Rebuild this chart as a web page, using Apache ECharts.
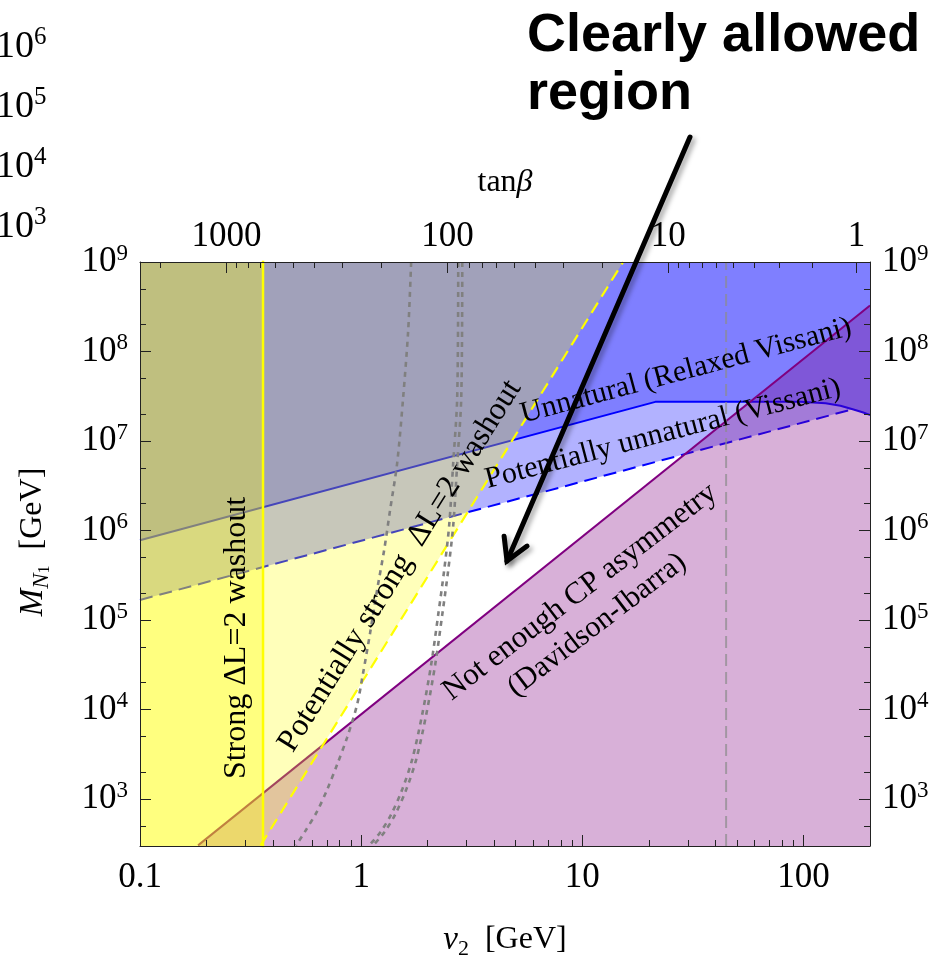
<!DOCTYPE html>
<html>
<head>
<meta charset="utf-8">
<title>Leptogenesis constraints</title>
<script src="https://cdn.jsdelivr.net/npm/echarts@6/dist/echarts.min.js"></script>
<style>
html,body{margin:0;padding:0;background:#fff;}
#chart{width:931px;height:956px;}
</style>
</head>
<body>
<div id="chart"></div>
<script>
// ---------------- axis ranges & ticks ----------------
const xRange = [0.1, 200];          // v2 [GeV]
const yRange = [300, 1e9];          // M_N1 [GeV]
const xMajorTicks = [0.1, 1, 10, 100];
const xMajorLabels = ['0.1', '1', '10', '100'];
const xMinorTicks = [0.2,0.3,0.4,0.5,0.6,0.7,0.8,0.9,2,3,4,5,6,7,8,9,20,30,40,50,60,70,80,90];
const yMajorTicks = [1e3,1e4,1e5,1e6,1e7,1e8,1e9];
const yMajorExps = ['3','4','5','6','7','8','9'];
const yMinorTicks = [500,2e3,5e3,2e4,5e4,2e5,5e5,2e6,5e6,2e7,5e7,2e8,5e8];
const tanbMajorTicks = [1000, 100, 10, 1];
const tanbMajorLabels = ['1000', '100', '10', '1'];
const tanbMinorTicks = [2000,900,800,700,600,500,400,300,200,90,80,70,60,50,40,30,20,9,8,7,6,5,4,3,2];
const vEW = 246; // GeV, v2 = v / sqrt(1 + tan^2(beta))
const leftOverflowExps = ['6','5','4','3'];

// ---------------- boundaries ----------------
const strongWashoutV2 = 0.36;                 // solid yellow line
const potStrongV2 = [0.351, 15.3];            // dashed yellow line
const potStrongM  = [305, 1.0e9];
const relaxedV2 = [0.1, 21.4, 97, 126, 147, 167, 185, 201];   // solid blue line
const relaxedM  = [7.8e5, 2.74e7, 2.74e7, 2.645e7, 2.48e7, 2.27e7, 2.10e7, 1.95e7];
const vissaniV2 = [0.1, 167];                 // dashed blue line
const vissaniM  = [1.68e5, 2.27e7];
const diV2 = [0.183, 200];                    // Davidson-Ibarra (purple)
const diM  = [305, 3.27e8];
const tanbGuideV2 = 44.7;                     // grey dashed vertical
const dot1V2 = [1.683,1.632,1.549,1.455,1.352,1.271,1.181,1.098,1.021,0.959,0.864,0.779,0.702,0.632,0.558,0.508];
const dot1M  = [1e9,1.72e8,3.08e7,5.68e6,1.70e6,6.08e5,2.18e5,7.21e4,2.58e4,1.14e4,4.88e3,2.44e3,1.28e3,730,437,305];
const dot2V2 = [2.748,2.719,2.608,2.502,2.375,2.231,2.073,1.888,1.701,1.533,1.367,1.219,1.087];
const dot2M  = [1e9,3.08e7,5.68e6,1.16e6,3.64e5,1.15e5,3.18e4,8.8e3,2.77e3,1.28e3,675,425,305];
const dot3V2 = [2.866,2.836,2.720,2.610,2.477,2.327,2.162,1.969,1.774,1.599,1.426,1.271,1.134];
const dot3M  = [1e9,3.08e7,5.68e6,1.16e6,3.64e5,1.15e5,3.18e4,8.8e3,2.77e3,1.28e3,675,425,305];

// ---------------- helpers ----------------
const LOG = Math.log10;
const serif = '"Liberation Serif","Times New Roman",Times,serif';
const sans = '"Liberation Sans",Arial,Helvetica,sans-serif';
const X0 = LOG(xRange[0]), X1 = LOG(xRange[1]), Y0 = LOG(yRange[0]), Y1 = LOG(yRange[1]);
const P = (v, m) => [LOG(v), LOG(m)];
const pts = (vs, ms) => vs.map((v, i) => P(v, ms[i]));
const tanToX = t => LOG(vEW / Math.sqrt(1 + t * t));
function nearest(arr, v) { let b = 0; arr.forEach((a, i) => { if (Math.abs(a - v) < Math.abs(arr[b] - v)) b = i; }); return b; }

const xMajVals = xMajorTicks.map(LOG);
const yMajVals = yMajorTicks.map(LOG);
const tMajVals = tanbMajorTicks.map(tanToX);

const relaxedPts = pts(relaxedV2, relaxedM);
const vissaniPts = pts(vissaniV2, vissaniM);
const diPts = pts(diV2, diM);
const potPts = pts(potStrongV2, potStrongM);
const xs = LOG(strongWashoutV2);

const bluePoly = relaxedPts.concat([[X1 + 0.1, Y1 + 0.1], [X0 - 0.1, Y1 + 0.1]]);
const bandPoly = vissaniPts.concat(
  relaxedPts.filter((p, i) => relaxedV2[i] < vissaniV2[vissaniV2.length - 1]).reverse());
const purplePoly = [diPts[0], diPts[1], [X1 + 0.1, diPts[1][1] + 0.2], [X1 + 0.1, Y0 - 0.2], [diPts[0][0], Y0 - 0.2]];
const strongPoly = [[X0 - 0.1, Y0 - 0.2], [xs, Y0 - 0.2], [xs, Y1 + 0.2], [X0 - 0.1, Y1 + 0.2]];
const potPoly = [[xs, Y0 - 0.2], [xs, potPts[0][1]]].concat(potPts).concat([[xs, Y1 + 0.2]]);

function polygonSeries(poly, fill, z) {
  return {
    type: 'custom', xAxisIndex: 0, yAxisIndex: 0, clip: true, silent: true, z: z, animation: false,
    data: [poly[0]],
    renderItem: function (params, api) {
      return { type: 'polygon', shape: { points: poly.map(p => api.coord(p)) }, style: { fill: fill } };
    }
  };
}
function lineSeries(data, lineStyle, z, smooth) {
  return {
    type: 'line', xAxisIndex: 0, yAxisIndex: 0, data: data, symbol: 'none', showSymbol: false,
    silent: true, z: z, animation: false, clip: true, smooth: smooth || false, lineStyle: lineStyle
  };
}

const supRich = {
  b: { fontFamily: serif, fontSize: 35, color: '#000', lineHeight: 40 },
  s: { fontFamily: serif, fontSize: 23, color: '#000', verticalAlign: 'top', lineHeight: 24 }
};
const yLabelFmt = v => '{b|10}{s|' + yMajorExps[nearest(yMajVals, v)] + '}';

function majorAxisBase(extra) {
  return Object.assign({
    type: 'value', z: 50, splitLine: { show: false },
    axisLine: { show: true, onZero: false, lineStyle: { color: '#222', width: 1 } }
  }, extra);
}
function minorAxis(pos, vals, isX) {
  const o = {
    type: 'value', z: 50, position: pos, splitLine: { show: false },
    axisLine: { show: false, onZero: false }, axisLabel: { show: false },
    axisTick: { show: true, inside: true, length: 6, customValues: vals, lineStyle: { color: '#222', width: 1 } }
  };
  if (isX) { o.min = X0; o.max = X1; } else { o.min = Y0; o.max = Y1; }
  return o;
}

const chart = echarts.init(document.getElementById('chart'), null, { renderer: 'canvas' });

const option = {
  animation: false,
  backgroundColor: '#ffffff',
  grid: { left: 140, top: 262, right: 61, bottom: 110, containLabel: false, outerBoundsMode: 'none' },
  xAxis: [
    majorAxisBase({
      position: 'bottom', min: X0, max: X1,
      axisTick: { show: true, inside: true, length: 11, customValues: xMajVals, lineStyle: { color: '#222' } },
      axisLabel: { show: true, customValues: xMajVals, margin: 14, color: '#000', fontFamily: serif, fontSize: 35,
        formatter: v => xMajorLabels[nearest(xMajVals, v)] }
    }),
    majorAxisBase({
      position: 'top', min: X0, max: X1,
      axisTick: { show: true, inside: true, length: 11, customValues: tMajVals, lineStyle: { color: '#222' } },
      axisLabel: { show: true, customValues: tMajVals, margin: 8, color: '#000', fontFamily: serif, fontSize: 35,
        formatter: v => tanbMajorLabels[nearest(tMajVals, v)] }
    }),
    minorAxis('bottom', xMinorTicks.map(LOG), true),
    minorAxis('top', tanbMinorTicks.map(tanToX), true)
  ],
  yAxis: [
    majorAxisBase({
      position: 'left', min: Y0, max: Y1,
      axisTick: { show: true, inside: true, length: 11, customValues: yMajVals, lineStyle: { color: '#222' } },
      axisLabel: { show: true, customValues: yMajVals, margin: 12, formatter: yLabelFmt, rich: supRich }
    }),
    majorAxisBase({
      position: 'right', min: Y0, max: Y1,
      axisTick: { show: true, inside: true, length: 11, customValues: yMajVals, lineStyle: { color: '#222' } },
      axisLabel: { show: true, customValues: yMajVals, margin: 12, formatter: yLabelFmt, rich: supRich }
    }),
    minorAxis('left', yMinorTicks.map(LOG), false),
    minorAxis('right', yMinorTicks.map(LOG), false)
  ],
  series: [
    polygonSeries(bluePoly, 'rgba(0,0,255,0.5)', 2),
    polygonSeries(bandPoly, 'rgba(0,0,255,0.30)', 3),
    lineSeries(relaxedPts, { color: '#0000ff', width: 2 }, 4),
    lineSeries(vissaniPts, { color: '#0000ff', width: 2, type: [13, 7] }, 5),
    polygonSeries(purplePoly, 'rgba(128,0,128,0.31)', 6),
    lineSeries(diPts, { color: '#800080', width: 2 }, 7),
    polygonSeries(strongPoly, 'rgba(255,255,0,0.5)', 8),
    polygonSeries(potPoly, 'rgba(255,255,0,0.27)', 9),
    lineSeries([[xs, Y0 - 0.2], [xs, Y1 + 0.2]], { color: '#ffff00', width: 2.5 }, 10),
    lineSeries(potPts, { color: '#ffff00', width: 2.2, type: [12, 7] }, 11),
    lineSeries([[LOG(tanbGuideV2), Y0], [LOG(tanbGuideV2), Y1]], { color: 'rgba(140,140,140,0.7)', width: 2, type: [12, 6] }, 12),
    lineSeries(pts(dot1V2, dot1M), { color: '#808080', width: 2.6, type: [5, 5] }, 13, 0.3),
    lineSeries(pts(dot2V2, dot2M), { color: '#808080', width: 2.6, type: [5, 5] }, 14, 0.3),
    lineSeries(pts(dot3V2, dot3M), { color: '#808080', width: 2.6, type: [5, 5] }, 15, 0.3)
  ]
};
chart.setOption(option);

// ---------------- annotations ----------------
function rtext(x, y, text, size, rotDeg, rich) {
  const st = { text: text, fontFamily: serif, fontSize: size, fill: '#000', align: 'center', verticalAlign: 'middle' };
  if (rich) st.rich = rich;
  return { type: 'text', x: x, y: y, rotation: rotDeg * Math.PI / 180, z: 100, silent: true, style: st };
}
const arrowTail = [690, 137], arrowTip = [507, 561];
function arrowHead(tip, tail, len, angDeg) {
  const dx = tail[0] - tip[0], dy = tail[1] - tip[1], L = Math.hypot(dx, dy);
  const ux = dx / L, uy = dy / L, a = angDeg * Math.PI / 180;
  const r = (c, s) => [tip[0] + len * (ux * c - uy * s), tip[1] + len * (ux * s + uy * c)];
  return [r(Math.cos(a), Math.sin(a)), tip, r(Math.cos(-a), Math.sin(-a))];
}
const shadow = { shadowBlur: 5, shadowColor: 'rgba(0,0,0,0.35)', shadowOffsetX: 3, shadowOffsetY: 3 };
const overflowRich = {
  b: { fontFamily: serif, fontSize: 38, color: '#000', lineHeight: 44 },
  s: { fontFamily: serif, fontSize: 25, color: '#000', verticalAlign: 'top', lineHeight: 26 }
};
const graphics = [
  { type: 'text', x: 527, y: 36, z: 100, silent: true,
    style: { text: 'Clearly allowed', fontFamily: sans, fontWeight: 'bold', fontSize: 54, fill: '#000', align: 'left', verticalAlign: 'middle' } },
  { type: 'text', x: 527, y: 94, z: 100, silent: true,
    style: { text: 'region', fontFamily: sans, fontWeight: 'bold', fontSize: 54, fill: '#000', align: 'left', verticalAlign: 'middle' } },
  { type: 'line', z: 101, silent: true, shape: { x1: arrowTail[0], y1: arrowTail[1], x2: arrowTip[0], y2: arrowTip[1] },
    style: Object.assign({ stroke: '#000', lineWidth: 5, lineCap: 'round' }, shadow) },
  { type: 'polyline', z: 101, silent: true, shape: { points: arrowHead(arrowTip, arrowTail, 25, 30) },
    style: Object.assign({ stroke: '#000', lineWidth: 5, lineCap: 'round', lineJoin: 'miter', fill: null }, shadow) },
  rtext(505, 183, '{r|tan}{i|β}', 32, 0, {
    r: { fontFamily: serif, fontSize: 32, color: '#000' },
    i: { fontFamily: serif, fontSize: 32, fontStyle: 'italic', color: '#000' } }),
  rtext(505, 940, '{i|v}{s|2}{r|  [GeV]}', 32, 0, {
    i: { fontFamily: serif, fontSize: 33, fontStyle: 'italic', color: '#000', lineHeight: 40 },
    s: { fontFamily: serif, fontSize: 22, color: '#000', verticalAlign: 'bottom', lineHeight: 24 },
    r: { fontFamily: serif, fontSize: 32, color: '#000', lineHeight: 40 } }),
  rtext(33, 542, '{m|M}{n|N}{o|1}{r|  [GeV]}', 32, 90, {
    m: { fontFamily: serif, fontSize: 33, fontStyle: 'italic', color: '#000', lineHeight: 40 },
    n: { fontFamily: serif, fontSize: 23, fontStyle: 'italic', color: '#000', verticalAlign: 'bottom', lineHeight: 26 },
    o: { fontFamily: serif, fontSize: 16, color: '#000', verticalAlign: 'bottom', lineHeight: 12 },
    r: { fontFamily: serif, fontSize: 32, color: '#000', lineHeight: 40 } }),
  rtext(237, 638, 'Strong ΔL=2 washout', 32, 90),
  rtext(400, 566, 'Potentially strong  ΔL=2 washout', 32, 58),
  rtext(686, 371, 'Unnatural (Relaxed Vissani)', 30, 15),
  rtext(663, 434, 'Potentially unnatural (Vissani)', 30, 14.7),
  rtext(580, 592, 'Not enough CP asymmetry', 31, 37.5),
  rtext(597, 625, '(Davidson-Ibarra)', 30, 37.5)
];
leftOverflowExps.forEach((e, i) => {
  graphics.push({ type: 'text', x: -4, y: 47 + i * 60, z: 100, silent: true,
    style: { text: '{b|10}{s|' + e + '}', rich: overflowRich, align: 'left', verticalAlign: 'middle' } });
});
chart.setOption({ graphic: { elements: graphics } });
</script>
</body>
</html>
